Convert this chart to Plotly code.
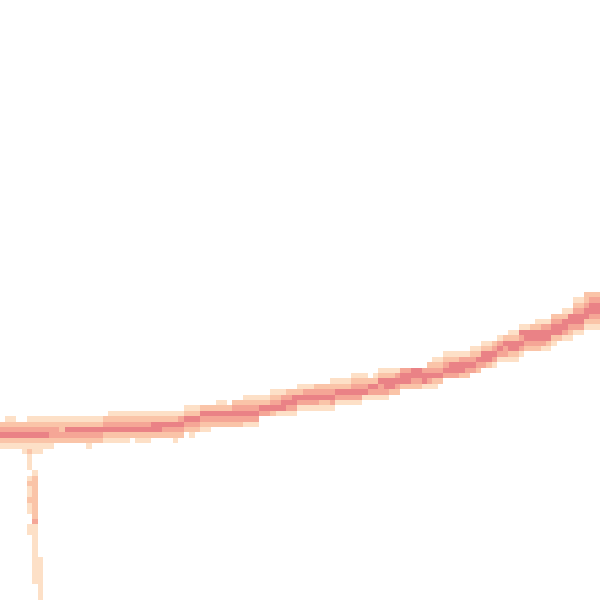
import plotly.graph_objects as go

# Grid of 111 x 111 bins covering the whole canvas (rows counted from the top)
n_bins = 111

# Curved band: for each column, top row and the density levels going down
band_top = [
    77, 77, 77, 77, 77, 77, 77, 77, 77, 77,   # 0-9
    77, 77, 77, 77, 77, 77, 77, 77, 77, 76,   # 10-19
    76, 76, 76, 76, 76, 76, 76, 76, 76, 76,   # 20-29
    76, 76, 76, 76, 75, 75, 75, 74, 74, 74,   # 30-39
    74, 74, 74, 74, 74, 73, 73, 73, 73, 73,   # 40-49
    72, 72, 72, 72, 72, 71, 71, 71, 71, 71,   # 50-59
    71, 70, 70, 70, 70, 69, 69, 69, 70, 69,   # 60-69
    68, 68, 68, 68, 68, 68, 68, 68, 68, 67,   # 70-79
    66, 66, 65, 65, 65, 65, 65, 64, 64, 63,   # 80-89
    63, 63, 62, 62, 61, 61, 60, 60, 60, 59,   # 90-99
    59, 59, 58, 58, 57, 57, 55, 55, 54, 54,   # 100-109
    54,                                        # 110
]
band_levels = [
    "023421", "123421", "123421", "023421", "023421", "123421", "123421", "123421", "123421", "123321",
    "123320", "122320", "124320", "124320", "124320", "124320", "124321", "124320", "124320", "023421",
    "123421", "123421", "123421", "123421", "123420", "123421", "123421", "123421", "124420", "124420",
    "124320", "124320", "124321", "134320", "124320", "124321", "124320", "024321", "024321", "024320",
    "124320", "124320", "024320", "234320", "234320", "123431", "123431", "123431", "12430", "12430",
    "12342", "12341", "13441", "23431", "24431", "12431", "13431", "13431", "23431", "23421",
    "23421", "123431", "12431", "12431", "12431", "123431", "123431", "12341", "2431", "12431",
    "124331", "124431", "12442", "13432", "3442", "3442", "4432", "4432", "3441", "23431",
    "123421", "12342", "12343", "12443", "12443", "13442", "13432", "12343", "12432", "12443",
    "12442", "23431", "13431", "24331", "124421", "124421", "143431", "14432", "24432", "124432",
    "134431", "134421", "234421", "23442", "124431", "144321", "1234431", "1234431", "2234421", "2344321",
    "2344321",
]

# Vertical stem below the left end of the band: (column, row, level)
stem_cols = [4, 5, 6, 7, 5, 5, 5, 6, 5, 5, 5, 5, 5, 5, 5, 6, 6, 6, 6, 6, 6, 6, 6, 6,
             5, 5, 6, 6, 6, 6, 6, 6, 6, 6, 6, 6, 6, 7, 7, 7, 7, 7, 7, 7, 7]
stem_rows = [83, 83, 83, 83, 84, 85, 86, 87, 88, 89, 90, 91, 92, 93, 94, 88, 89, 90, 91, 92, 93, 94, 95, 96,
             97, 98, 97, 98, 99, 100, 101, 102, 103, 104, 105, 106, 107, 103, 104, 105, 106, 107, 108, 109, 110]
stem_vals = [1, 2, 1, 1, 1, 1, 1, 1, 1, 2, 1, 1, 2, 1, 1, 2, 2, 2, 2, 2, 2, 2, 2, 3,
             1, 1, 1, 1, 1, 1, 1, 1, 1, 1, 1, 1, 1, 1, 1, 1, 1, 1, 1, 1, 1]

z = [[None] * n_bins for _ in range(n_bins)]
for c, (top, levels) in enumerate(zip(band_top, band_levels)):
    for i, ch in enumerate(levels):
        v = int(ch)
        if v > 0:
            z[top + i][c] = v
for c, r, v in zip(stem_cols, stem_rows, stem_vals):
    z[r][c] = v

colorscale = [
    [0.0, "rgb(253,224,199)"],
    [0.333, "rgb(250,196,168)"],
    [0.667, "rgb(245,166,150)"],
    [1.0, "rgb(234,130,134)"],
]

fig = go.Figure(
    go.Heatmap(
        z=z,
        x=list(range(n_bins)),
        y=list(range(n_bins)),
        zmin=1,
        zmax=4,
        colorscale=colorscale,
        showscale=False,
        hoverongaps=False,
    )
)
fig.update_layout(
    width=600,
    height=600,
    margin=dict(l=0, r=0, t=0, b=0),
    paper_bgcolor="white",
    plot_bgcolor="white",
    xaxis=dict(visible=False, range=[-0.5, n_bins - 0.5]),
    yaxis=dict(visible=False, range=[n_bins - 0.5, -0.5]),
)
fig.write_html(
    "out.html",
    config={"displayModeBar": False},
    post_script="document.body.style.margin='0';",
)
